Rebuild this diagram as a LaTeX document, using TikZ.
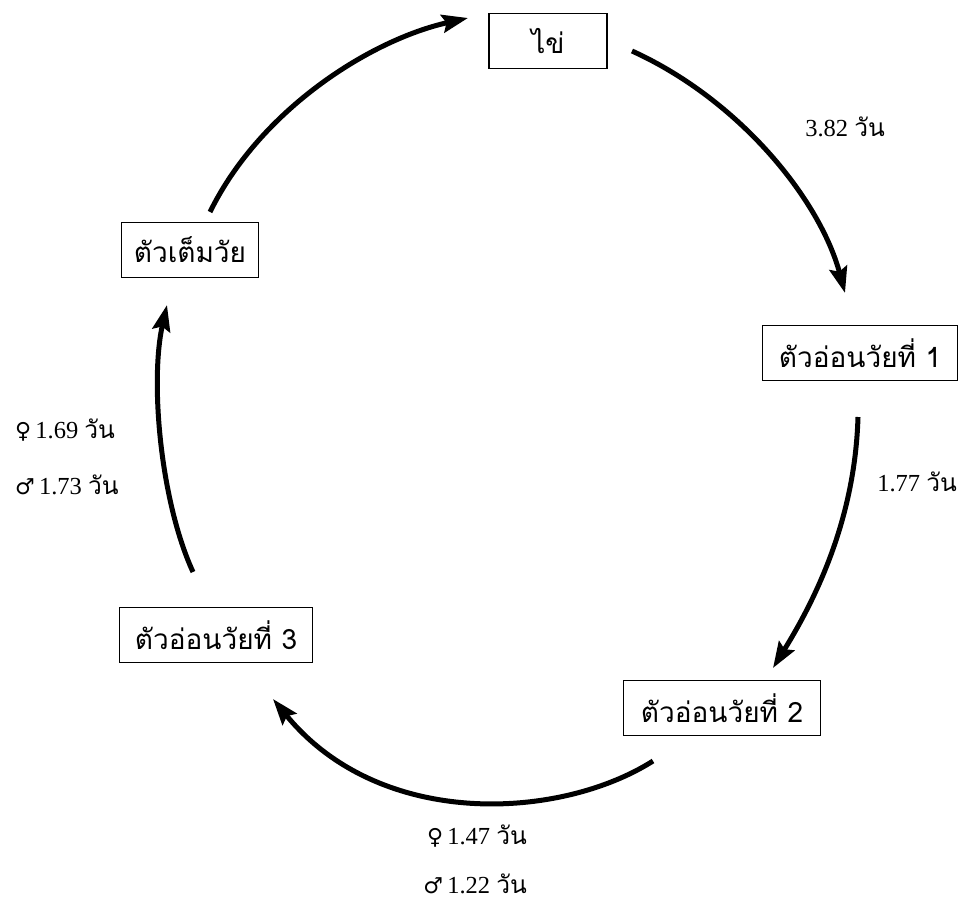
\documentclass[tikz,border=0pt]{standalone}
\usepackage{fontspec}
\setmainfont{Liberation Serif}
\newfontfamily\thaifont[Script=Thai]{Loma}
\newfontfamily\symfont{DejaVu Sans}
\usetikzlibrary{arrows.meta}
\tikzset{
  stagebox/.style={draw=black, line width=1.8pt, minimum height=55pt, inner sep=0pt, font=\thaifont\fontsize{28}{32}\selectfont},
  cyclearrow/.style={line width=5pt, -{Stealth[length=26pt,width=18pt,inset=4pt]}},
  durlabel/.style={inner sep=0pt, font=\fontsize{24.5}{28}\selectfont}
}
\newcommand{\wan}{{\thaifont วัน}}
\newcommand{\fem}{{\symfont\fontsize{22}{26}\selectfont ♀}}
\newcommand{\mal}{{\symfont\fontsize{22}{26}\selectfont ♂}}
\begin{document}
\begin{tikzpicture}[x=1pt,y=-1pt]
\useasboundingbox (0,0) rectangle (962,904);
\fill[white] (0,0) rectangle (962,904);
% stage boxes
\node[stagebox, minimum width=118pt] (egg) at (548,41) {ไข่};
\node[stagebox, minimum width=195pt] (l1) at (860,353) {ตัวอ่อนวัยที่ 1};
\node[stagebox, minimum width=197pt] (l2) at (722,708) {ตัวอ่อนวัยที่ 2};
\node[stagebox, minimum width=193pt] (l3) at (216,635) {ตัวอ่อนวัยที่ 3};
\node[stagebox, minimum width=137pt] (adult) at (190,250) {ตัวเต็มวัย};
% arrow end points
\coordinate (a1s) at (632,51);  \coordinate (a1e) at (845,293);
\coordinate (a2s) at (858,417); \coordinate (a2e) at (773,668);
\coordinate (a3s) at (653,761); \coordinate (a3e) at (273,699);
\coordinate (a4s) at (193,572); \coordinate (a4e) at (167,305);
\coordinate (a5s) at (210,212); \coordinate (a5e) at (468,18);
\draw[cyclearrow] (a1s) .. controls (740,100) and (820,200) .. (a1e);
\draw[cyclearrow] (a2s) .. controls (855,520) and (815,600) .. (a2e);
\draw[cyclearrow] (a3s) .. controls (560,820) and (380,830) .. (a3e);
\draw[cyclearrow] (a4s) .. controls (160,500) and (150,380) .. (a4e);
\draw[cyclearrow] (a5s) .. controls (260,110) and (370,40) .. (a5e);
% duration labels
\node[durlabel] (d1) at (845,127) {3.82 \wan};
\node[durlabel] (d2) at (917,482) {1.77 \wan};
\node[durlabel, anchor=east] (d3f) at (527,836) {\fem\,1.47 \wan};
\node[durlabel, anchor=east] (d3m) at (527,884) {\mal\,1.22 \wan};
\node[durlabel, anchor=west] (d4f) at (15,430) {\fem\,1.69 \wan};
\node[durlabel, anchor=west] (d4m) at (15,485) {\mal\,1.73 \wan};
\end{tikzpicture}
\end{document}
